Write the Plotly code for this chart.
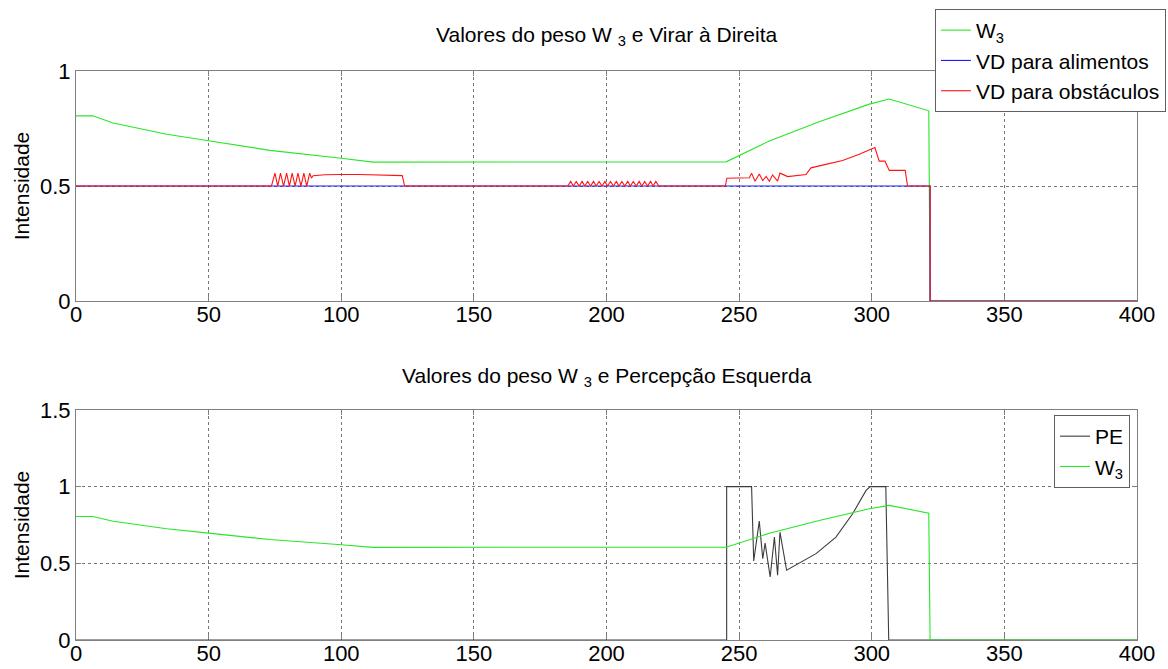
import plotly.graph_objects as go
from plotly.subplots import make_subplots

# Peso W3 (shared by both panels)
w3_x = [0, 6.3, 14.0, 34.2, 50.0, 73.1, 100.0, 112.0, 245.1, 261.4, 280.2, 299.1, 306.6, 314.1, 321.5, 322.0, 400]
w3_y = [0.805, 0.805, 0.774, 0.725, 0.697, 0.655, 0.621, 0.604, 0.605, 0.696, 0.779, 0.856, 0.878, 0.852, 0.827, 0.0, 0.0]

# Virar à Direita para alimentos
vd_alim_x = [0, 322.0, 322.0, 400]
vd_alim_y = [0.5, 0.5, 0.0, 0.0]

# Virar à Direita para obstáculos
vd_obst_x = [0, 73.7, 75.0, 76.05, 77.1, 78.25, 79.4, 80.45, 81.5, 82.6, 83.7, 84.8, 85.9, 87.0, 88.1, 88.8, 89.4,
             93.8, 99.4, 107.0, 123.0, 123.9,
             185.4, 186.5, 187.5, 188.6, 189.7, 190.8, 191.8, 192.9, 194.0, 195.1, 196.1, 197.2, 198.3, 199.4,
             200.4, 201.5, 202.6, 203.7, 204.7, 205.8, 206.9, 208.0, 209.0, 210.1, 211.2, 212.3, 213.3, 214.4,
             215.5, 216.6, 217.6, 218.6, 219.7,
             244.8, 245.4, 253.9, 254.7, 256.0, 257.6, 258.9, 260.2, 261.4, 262.6, 264.5, 265.4, 268.3, 275.2,
             277.1, 282.7, 289.0, 295.3, 300.3, 301.2, 302.8, 305.0, 306.6, 312.6, 313.5, 322.0, 322.0, 400]
vd_obst_y = [0.5, 0.5, 0.556, 0.5, 0.556, 0.5, 0.556, 0.5, 0.556, 0.5, 0.556, 0.5, 0.556, 0.5, 0.556, 0.535, 0.545,
             0.549, 0.55, 0.55, 0.545, 0.5,
             0.5, 0.52, 0.5, 0.52, 0.5, 0.52, 0.5, 0.52, 0.5, 0.52, 0.5, 0.52, 0.5, 0.52,
             0.5, 0.52, 0.5, 0.52, 0.5, 0.52, 0.5, 0.52, 0.5, 0.52, 0.5, 0.52, 0.5, 0.52,
             0.5, 0.52, 0.5, 0.52, 0.5,
             0.5, 0.534, 0.536, 0.556, 0.521, 0.552, 0.524, 0.542, 0.521, 0.548, 0.521, 0.556, 0.541, 0.55,
             0.579, 0.594, 0.611, 0.638, 0.662, 0.667, 0.608, 0.608, 0.568, 0.568, 0.5, 0.5, 0.0, 0.0]

# Percepção Esquerda
pe_x = [0, 245.3, 245.3, 254.7, 255.5, 257.6, 258.9, 259.8, 261.7, 263.3, 264.5, 265.4, 267.9,
        279.0, 286.5, 292.8, 297.8, 299.4, 305.3, 306.4, 400]
pe_y = [0, 0, 1, 1, 0.515, 0.775, 0.53, 0.632, 0.411, 0.671, 0.422, 0.703, 0.455,
        0.563, 0.671, 0.823, 0.974, 1, 1, 0, 0]

x_ticks = [0, 50, 100, 150, 200, 250, 300, 350, 400]
y_ticks_top = [0, 0.5, 1]
y_ticks_bottom = [0, 0.5, 1, 1.5]

FONT = "Liberation Sans, Arial, sans-serif"
GREEN = "rgb(40,230,40)"
BLUE = "rgb(30,30,255)"
RED = "rgb(255,20,20)"
BLACK = "rgb(60,60,60)"

fig = make_subplots(rows=2, cols=1, vertical_spacing=0.1915)

fig.add_trace(go.Scatter(x=w3_x, y=w3_y, mode="lines", name="W<sub>3</sub>",
                         line=dict(color=GREEN, width=1.1), legend="legend"), row=1, col=1)
fig.add_trace(go.Scatter(x=vd_alim_x, y=vd_alim_y, mode="lines", name="VD para alimentos",
                         line=dict(color=BLUE, width=1.1), legend="legend"), row=1, col=1)
fig.add_trace(go.Scatter(x=vd_obst_x, y=vd_obst_y, mode="lines", name="VD para obstáculos",
                         line=dict(color=RED, width=1.1), legend="legend"), row=1, col=1)

fig.add_trace(go.Scatter(x=pe_x, y=pe_y, mode="lines", name="PE",
                         line=dict(color=BLACK, width=1.1), legend="legend2"), row=2, col=1)
fig.add_trace(go.Scatter(x=w3_x, y=w3_y, mode="lines", name="W<sub>3</sub>",
                         line=dict(color=GREEN, width=1.1), legend="legend2"), row=2, col=1)

axis_common = dict(
    showline=True, linecolor="#808080", linewidth=1, mirror="ticks",
    ticks="inside", ticklen=5, tickcolor="#808080", layer="below traces",
    showgrid=True, gridcolor="#777777", griddash="dot", gridwidth=1,
    zeroline=False, tickfont=dict(family=FONT, size=22, color="black"),
)

for r in (1, 2):
    fig.update_xaxes(range=[0, 400], tickvals=x_ticks, ticktext=[str(v) for v in x_ticks],
                     ticklabelstandoff=-6, row=r, col=1, **axis_common)

ytitle = dict(text="Intensidade", font=dict(family=FONT, size=21, color="black"), standoff=4)
fig.update_yaxes(range=[0, 1], tickvals=y_ticks_top, ticktext=["0", "0.5", "1"], row=1, col=1,
                 title=ytitle, **axis_common)
fig.update_yaxes(range=[0, 1.5], tickvals=y_ticks_bottom, ticktext=["0", "0.5", "1", "1.5"], row=2, col=1,
                 title=ytitle, **axis_common)

fig.update_layout(
    width=1168, height=669,
    margin=dict(l=76, r=31, t=71, b=29, autoexpand=False),
    paper_bgcolor="white", plot_bgcolor="white",
    font=dict(family=FONT, color="black"),
    annotations=[
        dict(text="Valores do peso W <sub>3</sub> e Virar à Direita", x=0.5, y=1.061, xref="paper", yref="paper",
             xanchor="center", yanchor="middle", showarrow=False,
             font=dict(family=FONT, size=21, color="black")),
        dict(text="Valores do peso W <sub>3</sub> e Percepção Esquerda", x=0.5, y=0.462, xref="paper", yref="paper",
             xanchor="center", yanchor="middle", showarrow=False,
             font=dict(family=FONT, size=21, color="black")),
    ],
    legend=dict(x=1.0273, y=1.109, xanchor="right", yanchor="top",
                bgcolor="white", bordercolor="#606060", borderwidth=1,
                font=dict(family=FONT, size=21, color="black"), tracegroupgap=0),
    legend2=dict(x=0.9934, y=0.3954, xanchor="right", yanchor="top",
                 bgcolor="white", bordercolor="#606060", borderwidth=1,
                 font=dict(family=FONT, size=21, color="black"), tracegroupgap=0),
    showlegend=True,
)

fig.write_html("out.html")
